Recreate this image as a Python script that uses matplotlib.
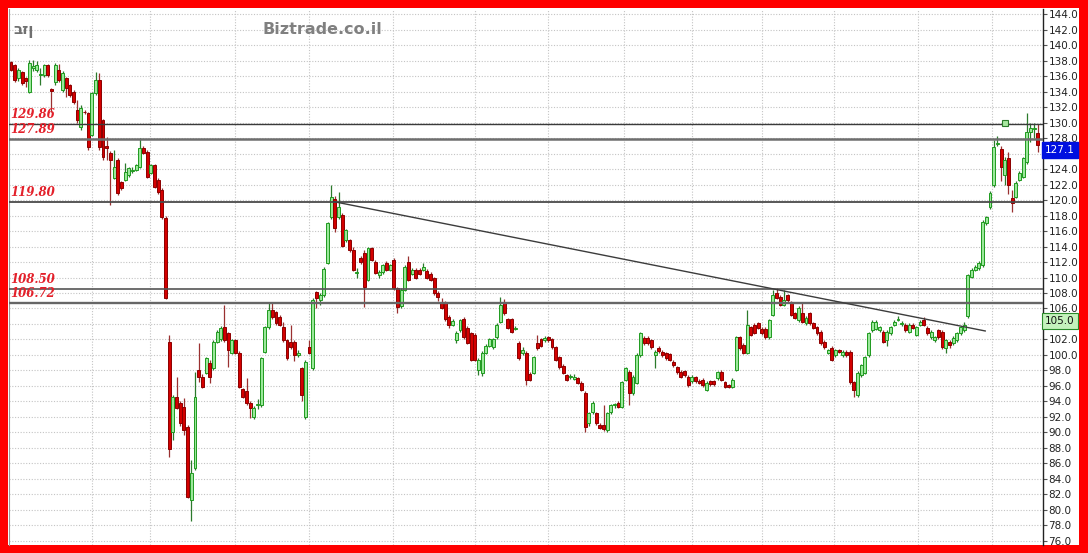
import matplotlib
matplotlib.use("Agg")
import matplotlib.pyplot as plt
import matplotlib.ticker as ticker
from matplotlib.patches import Rectangle

# daily candles, oldest first
open_prices = [
    137.8, 137.4, 135.7, 136.5, 135.7, 134.0, 137.0, 136.8, 136.1, 136.1,
    137.4, 134.3, 135.2, 136.8, 134.2, 135.7, 134.8, 134.0, 131.6, 129.4,
    131.4, 131.2, 128.4, 133.8, 135.5, 130.3, 127.0, 126.1, 122.9, 125.2,
    122.3, 122.6, 123.2, 123.8, 123.9, 124.3, 126.7, 126.2, 123.5, 124.5,
    122.6, 121.3, 117.7, 101.7, 90.1, 94.6, 93.8, 93.3, 90.7, 81.3,
    85.4, 98.1, 97.2, 97.7, 99.0, 98.3, 101.7, 102.0, 103.6, 102.8,
    100.3, 101.9, 100.3, 95.6, 95.4, 93.8, 92.0, 93.6, 93.5, 100.4,
    103.6, 105.8, 105.5, 104.9, 103.6, 101.9, 101.7, 101.7, 100.0, 98.3,
    92.0, 101.0, 98.3, 108.1, 107.1, 107.7, 111.9, 117.8, 120.1, 117.8,
    118.1, 114.8, 114.8, 113.5, 110.6, 112.5, 113.2, 109.7, 113.8, 112.0,
    110.3, 110.7, 111.9, 111.0, 112.3, 108.6, 106.3, 108.4, 112.0, 110.5,
    111.0, 111.0, 111.0, 110.9, 110.5, 109.9, 108.0, 106.8, 106.8, 104.9,
    103.9, 101.9, 103.2, 104.7, 103.5, 102.8, 102.6, 98.1, 97.7, 100.3,
    101.2, 101.0, 102.3, 104.3, 106.8, 104.6, 104.6, 103.4, 101.6, 100.2,
    100.3, 97.6, 97.7, 101.5, 102.0, 101.9, 102.3, 102.0, 101.0, 99.7,
    98.6, 97.4, 97.1, 96.9, 97.0, 96.4, 95.1, 91.2, 92.6, 92.5,
    91.0, 91.0, 90.3, 92.6, 93.5, 93.8, 93.3, 96.8, 97.8, 95.1,
    96.4, 100.0, 102.2, 102.2, 101.9, 100.0, 100.9, 100.4, 100.2, 100.1,
    99.1, 98.4, 97.8, 97.9, 97.2, 96.6, 97.1, 96.7, 96.8, 95.5,
    96.6, 96.6, 97.0, 97.8, 96.5, 96.1, 95.9, 98.1, 102.3, 101.3,
    100.3, 103.6, 103.9, 104.1, 103.4, 103.4, 102.3, 105.2, 108.0, 107.5,
    106.5, 107.7, 106.8, 105.4, 104.5, 105.4, 104.1, 105.4, 104.1, 103.6,
    103.0, 101.7, 100.3, 100.9, 100.0, 100.6, 100.0, 100.4, 100.4, 96.5,
    94.8, 97.4, 97.7, 100.0, 103.2, 103.4, 103.2, 103.0, 101.9, 102.8,
    103.9, 104.5, 104.0, 103.9, 103.0, 103.9, 102.6, 103.9, 104.5, 103.5,
    102.3, 101.9, 103.2, 103.0, 100.9, 101.7, 101.5, 101.9, 102.8, 103.2,
    105.0, 110.1, 111.0, 111.2, 111.6, 117.0, 119.1, 121.9, 127.2, 126.6,
    123.2, 125.4, 120.3, 120.4, 122.6, 123.0, 124.9, 128.8, 129.2, 128.6,
]
high_prices = [
    138.0, 137.6, 137.0, 136.7, 135.9, 138.1, 138.1, 138.0, 137.0, 137.6,
    137.6, 134.4, 137.7, 137.6, 136.6, 135.9, 135.0, 134.2, 132.9, 132.2,
    131.6, 131.4, 134.0, 136.5, 136.4, 130.5, 128.1, 126.3, 126.5, 125.4,
    122.5, 124.8, 124.3, 124.2, 124.7, 128.0, 127.0, 126.4, 124.7, 124.7,
    122.8, 121.5, 117.9, 102.6, 94.8, 97.2, 94.0, 94.5, 91.0, 86.5,
    97.8, 101.5, 97.6, 99.8, 99.3, 101.9, 103.2, 103.7, 106.5, 103.0,
    102.1, 102.1, 100.5, 95.8, 97.0, 94.0, 93.4, 94.3, 99.8, 103.8,
    106.7, 106.7, 105.7, 105.1, 104.3, 102.1, 103.9, 101.9, 100.6, 98.5,
    99.3, 101.9, 107.3, 108.3, 108.0, 111.3, 117.2, 121.9, 120.5, 121.0,
    118.3, 116.3, 115.0, 114.0, 111.2, 112.8, 113.5, 114.0, 114.0, 112.2,
    111.0, 111.8, 112.1, 111.8, 112.5, 108.8, 108.6, 111.6, 112.8, 111.2,
    111.2, 111.2, 111.9, 111.1, 110.7, 110.1, 108.2, 107.3, 107.0, 105.1,
    104.6, 103.1, 104.7, 104.9, 103.7, 103.0, 102.8, 99.6, 100.5, 101.4,
    102.2, 102.2, 104.1, 107.5, 107.2, 104.8, 104.8, 103.7, 101.8, 101.0,
    100.5, 97.8, 99.9, 102.6, 102.2, 102.4, 102.5, 102.2, 101.2, 99.9,
    98.8, 97.6, 97.5, 97.6, 97.2, 96.6, 95.3, 92.7, 94.0, 92.7,
    91.2, 93.5, 92.7, 93.7, 93.8, 94.0, 96.7, 98.5, 98.0, 97.4,
    100.2, 103.0, 102.4, 102.4, 102.1, 100.6, 101.1, 100.6, 100.4, 100.3,
    99.3, 98.6, 98.0, 98.1, 97.4, 97.4, 97.3, 96.9, 97.0, 96.6,
    96.8, 96.8, 97.9, 98.0, 96.7, 96.3, 97.0, 102.5, 102.5, 101.5,
    105.8, 103.8, 104.1, 104.3, 103.6, 103.6, 104.7, 108.4, 108.6, 107.7,
    108.4, 107.9, 107.0, 105.6, 106.3, 106.7, 105.0, 105.6, 104.3, 103.8,
    103.2, 101.9, 100.8, 101.1, 100.8, 100.8, 100.6, 100.6, 100.6, 96.7,
    97.9, 98.9, 99.9, 103.0, 104.5, 104.5, 103.8, 103.2, 103.2, 103.8,
    104.5, 105.0, 104.4, 104.1, 104.1, 104.1, 103.8, 104.5, 104.9, 103.7,
    103.2, 102.5, 103.4, 103.2, 102.1, 101.9, 102.4, 103.0, 103.8, 104.3,
    110.5, 111.2, 111.6, 112.1, 117.4, 118.0, 121.1, 127.7, 128.3, 127.0,
    125.5, 126.2, 121.3, 122.4, 123.7, 125.6, 131.2, 129.9, 129.9, 129.8,
]
low_prices = [
    136.6, 135.2, 135.4, 134.8, 134.6, 133.8, 136.7, 136.5, 134.8, 135.9,
    135.9, 131.3, 134.9, 135.2, 133.9, 133.3, 133.3, 132.4, 130.0, 129.0,
    131.1, 126.5, 128.2, 133.6, 126.5, 125.2, 125.2, 119.4, 122.7, 120.7,
    121.3, 122.4, 123.0, 123.5, 123.7, 124.1, 125.9, 122.8, 123.3, 121.5,
    120.8, 117.6, 107.2, 86.8, 89.0, 93.0, 90.8, 89.7, 81.5, 78.6,
    85.2, 96.5, 95.8, 97.5, 96.4, 98.1, 101.5, 101.8, 101.7, 98.4,
    100.1, 100.1, 95.7, 94.4, 93.6, 91.9, 91.8, 93.0, 93.3, 100.2,
    103.4, 104.7, 103.9, 103.7, 101.7, 99.4, 100.8, 99.2, 99.8, 94.0,
    91.8, 100.1, 98.1, 106.0, 106.5, 107.5, 111.7, 117.6, 115.9, 117.5,
    113.9, 114.6, 113.3, 110.8, 110.0, 111.7, 106.2, 109.5, 112.1, 110.4,
    110.0, 110.5, 110.8, 110.8, 108.4, 105.4, 106.1, 108.2, 109.5, 110.3,
    109.8, 110.3, 110.8, 109.8, 109.5, 107.8, 107.0, 105.9, 104.4, 103.5,
    103.7, 101.6, 103.0, 102.1, 101.4, 99.2, 99.2, 97.4, 97.3, 100.1,
    101.0, 100.8, 102.1, 104.1, 105.2, 103.3, 102.8, 103.2, 99.4, 100.0,
    96.1, 96.6, 97.5, 100.7, 101.0, 101.7, 101.7, 100.8, 99.2, 98.2,
    97.5, 96.6, 96.9, 96.8, 96.2, 95.3, 90.1, 90.9, 92.4, 91.0,
    90.4, 90.2, 90.1, 92.4, 93.2, 93.1, 93.1, 96.6, 93.6, 94.9,
    96.2, 99.8, 101.3, 101.3, 100.8, 98.3, 100.3, 99.8, 99.4, 99.2,
    98.5, 97.6, 97.0, 97.2, 95.9, 96.4, 96.4, 96.3, 95.9, 95.3,
    96.0, 96.0, 96.8, 96.6, 95.7, 95.7, 95.7, 97.9, 100.7, 100.1,
    100.1, 102.4, 102.7, 103.3, 102.6, 102.1, 102.1, 105.0, 107.2, 106.3,
    106.3, 106.9, 105.0, 104.6, 104.3, 104.1, 103.9, 103.9, 103.3, 102.6,
    101.3, 100.8, 100.1, 99.2, 99.8, 100.2, 99.8, 99.8, 96.3, 94.6,
    94.6, 97.2, 97.5, 99.8, 103.0, 103.2, 103.0, 101.5, 101.2, 102.6,
    103.7, 104.4, 103.8, 103.0, 102.8, 103.3, 102.4, 103.7, 103.7, 102.6,
    102.1, 101.7, 102.1, 100.8, 100.3, 100.9, 101.3, 101.7, 102.6, 103.0,
    104.8, 109.9, 110.8, 111.0, 111.4, 116.8, 118.9, 121.7, 127.0, 122.5,
    122.0, 120.8, 118.4, 120.2, 122.4, 122.8, 124.7, 127.5, 128.0, 126.2,
]
close_prices = [
    136.8, 135.5, 136.8, 135.1, 135.4, 137.7, 137.3, 137.4, 136.2, 137.4,
    136.1, 134.1, 137.4, 135.5, 136.4, 134.5, 133.5, 132.6, 130.3, 131.9,
    131.3, 126.8, 133.8, 135.5, 126.8, 125.5, 126.7, 125.2, 124.2, 120.9,
    121.5, 123.6, 124.1, 123.9, 124.5, 126.7, 126.1, 123.0, 124.5, 121.7,
    121.0, 117.8, 107.4, 87.9, 94.6, 93.2, 91.2, 90.3, 81.7, 84.8,
    94.6, 97.1, 95.9, 99.6, 97.2, 101.7, 103.0, 103.5, 101.9, 100.6,
    101.9, 100.3, 95.9, 94.6, 93.8, 93.2, 93.2, 93.7, 99.6, 103.6,
    105.8, 104.9, 104.1, 103.9, 101.9, 99.6, 101.0, 100.0, 100.2, 94.8,
    99.1, 100.3, 107.1, 107.4, 107.8, 111.1, 117.0, 120.4, 116.4, 119.1,
    114.1, 116.1, 113.5, 111.0, 110.7, 112.0, 108.8, 113.8, 112.3, 110.6,
    110.7, 111.6, 111.0, 111.6, 108.6, 106.2, 108.4, 111.4, 109.7, 111.0,
    110.0, 110.5, 111.4, 110.0, 109.7, 108.0, 107.5, 106.1, 104.6, 103.9,
    104.4, 102.9, 104.5, 102.3, 101.6, 99.4, 99.4, 99.4, 100.3, 101.2,
    102.0, 102.0, 103.9, 106.4, 105.4, 103.5, 103.0, 103.5, 99.6, 100.6,
    96.8, 96.8, 99.7, 100.9, 101.2, 102.2, 101.9, 101.0, 99.4, 98.4,
    97.7, 96.8, 97.3, 97.1, 96.4, 95.5, 90.7, 92.5, 93.8, 91.2,
    90.6, 90.4, 92.5, 93.5, 93.6, 93.3, 96.5, 98.3, 95.1, 97.2,
    100.0, 102.8, 101.5, 101.5, 101.0, 100.4, 100.5, 100.0, 99.6, 99.4,
    98.7, 97.8, 97.2, 97.4, 96.1, 97.2, 96.6, 96.4, 96.1, 96.4,
    96.2, 96.2, 97.8, 96.8, 95.9, 95.9, 96.8, 102.3, 100.9, 100.3,
    103.9, 102.6, 102.9, 103.5, 102.8, 102.3, 104.5, 107.7, 107.4, 106.5,
    107.1, 107.1, 105.2, 104.8, 106.1, 104.3, 104.8, 104.1, 103.5, 102.8,
    101.5, 101.0, 100.6, 99.4, 100.6, 100.4, 100.4, 100.0, 96.5, 95.5,
    97.7, 98.7, 99.7, 102.8, 104.3, 104.3, 103.6, 101.7, 103.0, 103.6,
    104.3, 104.6, 104.1, 103.2, 103.9, 103.5, 103.6, 104.3, 103.9, 102.8,
    103.0, 102.3, 102.3, 101.0, 101.9, 101.3, 102.2, 102.8, 103.6, 103.9,
    110.3, 111.0, 111.4, 111.9, 117.2, 117.8, 120.9, 126.8, 127.4, 124.3,
    125.2, 121.9, 119.6, 122.2, 123.5, 125.4, 128.8, 129.3, 129.3, 127.1,
]

# support / resistance levels and their labels
levels = [129.86, 127.89, 119.80, 108.50, 106.72]
level_labels = ["129.86", "127.89", "119.80", "108.50", "106.72"]

# trend line (candle index, price)
trend_x = [87.6, 264.7]
trend_y = [119.8, 103.1]

# month boundaries (candle index) for the vertical grid
month_breaks = [22.0, 37.8, 60.9, 81.0, 103.8, 126.1, 145.9, 166.6,
                185.1, 204.1, 223.6, 246.5, 266.6]

last_price = 127.1
breakout_price = 105.0
signal_idx = 270
signal_price = 129.95

W, H = 1088, 553
fig = plt.figure(figsize=(W / 100, H / 100), dpi=100)
fig.patch.set_facecolor('#ff0000')
fig.add_artist(Rectangle((8 / W, 8 / H), 1071 / W, 537 / H,
                         transform=fig.transFigure, facecolor='white',
                         edgecolor='none', zorder=0))

ax = fig.add_axes([9 / W, 8 / H, 1034 / W, 536 / H])
ax.set_facecolor('white')

n = len(close_prices)
xs = list(range(n))

# wicks and bodies
for i in xs:
    o, h, l, c = open_prices[i], high_prices[i], low_prices[i], close_prices[i]
    up = c >= o
    edge = '#1f9a1f' if up else '#8c0000'
    fill = '#9be89b' if up else '#d40000'
    wick = '#2c7a2c' if up else '#9a3030'
    ax.vlines(i, l, h, color=wick, lw=0.9, zorder=3)
    body = max(abs(c - o), 0.12)
    ax.bar(i, body, bottom=min(o, c), width=0.8, color=fill,
           edgecolor=edge, linewidth=0.7, zorder=4)

# horizontal levels
level_style = [('#3a3a3a', 1.0), ('#6e6e6e', 1.8), ('#4a4a4a', 1.3),
               ('#555555', 1.2), ('#666666', 1.7)]
for lv, lab, (col, lw) in zip(levels, level_labels, level_style):
    ax.axhline(lv, color=col, lw=lw, zorder=5)
    ax.text(-0.2, lv + 0.35, lab, color='#e3202a', fontsize=8.5,
            family='DejaVu Serif', style='italic', fontweight='bold',
            ha='left', va='bottom', zorder=6)

ax.plot(trend_x, trend_y, color='#3c3c3c', lw=1.0, zorder=5)

ax.plot(signal_idx, signal_price, marker='s', ms=5, mfc='#a8e8a0',
        mec='#2a7a2a', mew=0.8, zorder=6)

ax.set_xlim(-0.54, 280.4)
ax.set_ylim(75.48, 144.65)

tags = [last_price, breakout_price]


def price_fmt(v, pos):
    # the price tags hide the tick label just below them
    for t in tags:
        if 0 < t - v < 2:
            return ''
    return f'{v:.1f}'


ax.yaxis.tick_right()
ax.yaxis.set_major_locator(ticker.MultipleLocator(2))
ax.yaxis.set_major_formatter(ticker.FuncFormatter(price_fmt))
ax.tick_params(axis='y', labelsize=7.5, length=3, width=0.8,
               color='#555555', labelcolor='#222222', pad=1)
ax.set_xticks(month_breaks)
ax.set_xticklabels([])
ax.tick_params(axis='x', length=0)

ax.grid(True, color='#c4c4c4', linestyle=(0, (1, 1.5)), lw=0.8, zorder=1)
ax.set_axisbelow(True)

for side in ['top', 'bottom']:
    ax.spines[side].set_visible(False)
ax.spines['left'].set_color('#999999')
ax.spines['left'].set_linewidth(0.8)
ax.spines['right'].set_color('#222222')
ax.spines['right'].set_linewidth(1.0)

# price tags on the right axis
ytrans = ax.get_yaxis_transform()
ax.text(1.002, last_price, f'{last_price:.1f}', transform=ytrans,
        fontsize=7.5, color='white', ha='left', va='top', zorder=8,
        bbox=dict(boxstyle='square,pad=0.3', fc='#0010e0', ec='#0010e0'),
        clip_on=False)
ax.text(1.002, breakout_price, f'{breakout_price:.1f}', transform=ytrans,
        fontsize=7.5, color='#111111', ha='left', va='top', zorder=8,
        bbox=dict(boxstyle='square,pad=0.3', fc='#c4f2bc', ec='#2a8a2a', lw=0.8),
        clip_on=False)

fig.text(322 / W, 1 - 30 / H, 'Biztrade.co.il', fontsize=11.5,
         fontweight='bold', color='#808080', ha='center', va='center')
fig.text(13 / W, 1 - 30 / H, 'בזן', fontsize=11,
         fontweight='bold', color='#707070', ha='left', va='center')

fig.savefig('out.png', dpi=100, facecolor=fig.get_facecolor())
